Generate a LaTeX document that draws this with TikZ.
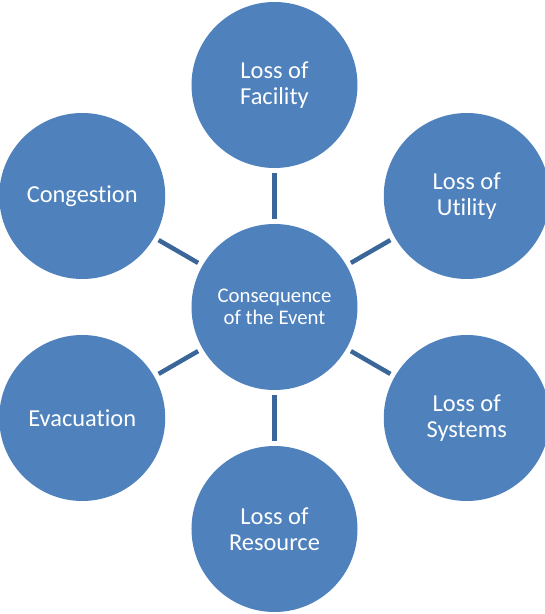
\documentclass[tikz,border=0pt]{standalone}
\usepackage{fontspec}
\setmainfont[Ligatures=NoCommon]{Carlito}
\definecolor{bubbleblue}{HTML}{4F81BD}
\definecolor{linkblue}{HTML}{3A669A}
\begin{document}
\begin{tikzpicture}[x=1bp, y=1bp,
    hub/.style={circle, fill=bubbleblue, text=white, minimum size=166bp, inner sep=0pt,
        align=center, font=\fontsize{20.8bp}{22.5bp}\selectfont},
    leaf/.style={hub, font=\fontsize{24.4bp}{26.5bp}\selectfont},
    spoke/.style={draw=linkblue, line width=4.5bp, shorten <=5bp, shorten >=5bp}]
\useasboundingbox (-274.5,-307) rectangle (270.5,307);

\node[hub] (event) at (0,0) {Consequence\\of the Event};

\node[leaf] (facility) at (90:222bp) {Loss of\\Facility};
\node[leaf] (utility) at (30:222bp) {Loss of\\Utility};
\node[leaf] (systems) at (-30:222bp) {Loss of\\Systems};
\node[leaf] (resource) at (-90:222bp) {Loss of\\Resource};
\node[leaf] (evacuation) at (210:222bp) {Evacuation};
\node[leaf] (congestion) at (150:222bp) {Congestion};

% spokes
\draw[spoke] (event) -- (facility);
\draw[spoke] (event) -- (utility);
\draw[spoke] (event) -- (systems);
\draw[spoke] (event) -- (resource);
\draw[spoke] (event) -- (evacuation);
\draw[spoke] (event) -- (congestion);
\end{tikzpicture}
\end{document}
